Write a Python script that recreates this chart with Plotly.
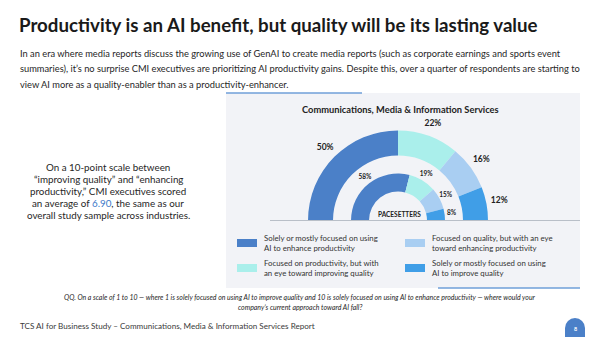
import plotly.graph_objects as go
import numpy as np

W, H = 600, 337

# ---------------- data ----------------
categories = [
    "Solely or mostly focused on using AI to enhance productivity",
    "Focused on productivity, but with an eye toward improving quality",
    "Focused on quality, but with an eye toward enhancing productivity",
    "Solely or mostly focused on using AI to improve quality",
]
legend_text = [
    "Solely or mostly focused on using<br>AI to enhance productivity",
    "Focused on productivity, but with<br>an eye toward improving quality",
    "Focused on quality, but with an eye<br>toward enhancing productivity",
    "Solely or mostly focused on using<br>AI to improve quality",
]
all_respondents = [50, 22, 16, 12]   # outer ring (%)
pacesetters = [58, 19, 15, 8]        # inner ring (%)
colors = ["#4b80c8", "#aaefeb", "#a9cef2", "#409ee7"]

FONT = "Lato"


def px(x):
    return x / W


def py(y):
    return 1 - y / H


def angles(vals):
    v = np.array(vals, dtype=float)
    start = np.cumsum(v) - v
    mid = (start + v / 2) * 1.8
    span = v * 1.8
    return mid, span


mid_o, span_o = angles(all_respondents)
mid_i, span_i = angles(pacesetters)

fig = go.Figure()

for i, cat in enumerate(categories):
    fig.add_trace(go.Barpolar(
        theta=[mid_o[i], mid_i[i]],
        width=[span_o[i], span_i[i]],
        r=[25, 18],
        base=[65, 29],
        marker=dict(color=colors[i], line=dict(width=0)),
        name=cat,
        showlegend=False,
        hoverinfo="skip",
    ))

fig.add_trace(go.Scatterpolar(
    r=[103] * 4 + [54] * 4,
    theta=list(mid_o) + list(mid_i),
    mode="text",
    text=[f"<b>{v}%</b>" for v in all_respondents] + [f"<b>{v}%</b>" for v in pacesetters],
    textfont=dict(family=FONT, size=[8.5] * 4 + [6.5] * 4, color="#222222"),
    cliponaxis=False,
    showlegend=False,
    hoverinfo="skip",
))

shapes = []
# panel
shapes.append(dict(type="rect", xref="paper", yref="paper", x0=px(226), x1=px(580), y0=py(288), y1=py(93),
                   fillcolor="#f2f3f7", line=dict(width=0), layer="below"))
shapes.append(dict(type="line", xref="paper", yref="paper", x0=px(226), x1=px(362), y0=py(93), y1=py(93),
                   line=dict(color="#6f9fd8", width=1.5)))
shapes.append(dict(type="line", xref="paper", yref="paper", x0=px(438), x1=px(580), y0=py(288), y1=py(288),
                   line=dict(color="#6f9fd8", width=1.5)))
# baseline of the half donut
shapes.append(dict(type="line", xref="paper", yref="paper", x0=px(270), x1=px(580), y0=py(220.5), y1=py(220.5),
                   line=dict(color="#b9bfc8", width=1)))

# legend swatches + text
leg_pos = [(237, 243), (237, 268), (405, 243), (405, 268)]
annotations = []
for i, (lx, ly) in enumerate(leg_pos):
    shapes.append(dict(type="rect", xref="paper", yref="paper", x0=px(lx), x1=px(lx + 20),
                       y0=py(ly + 4), y1=py(ly - 4), fillcolor=colors[i], line=dict(width=0)))
    annotations.append(dict(xref="paper", yref="paper", x=px(lx + 25), y=py(ly), xanchor="left", yanchor="middle",
                            text=legend_text[i], showarrow=False, align="left",
                            font=dict(family=FONT, size=7.8, color="#333333")))

# page badge
shapes.append(dict(type="circle", xref="paper", yref="paper", x0=px(565), x1=px(585), y0=py(338), y1=py(318),
                   fillcolor="#4b80c8", line=dict(width=0)))
shapes.append(dict(type="rect", xref="paper", yref="paper", x0=px(565), x1=px(585), y0=py(337), y1=py(328),
                   fillcolor="#4b80c8", line=dict(width=0)))

# title
annotations.append(dict(xref="paper", yref="paper", x=px(17), y=py(25), xanchor="left", yanchor="middle",
                        text="<b>Productivity is an AI benefit, but quality will be its lasting value</b>",
                        showarrow=False, font=dict(family=FONT, size=18.7, color="#1a1a1a")))

para = [
    "In an era where media reports discuss the growing use of GenAI to create media reports (such as corporate earnings and sports event",
    "summaries), it\u2019s no surprise CMI executives are prioritizing AI productivity gains. Despite this, over a quarter of respondents are starting to",
    "view AI more as a quality-enabler than as a productivity-enhancer.",
]
for k, line in enumerate(para):
    annotations.append(dict(xref="paper", yref="paper", x=px(18), y=py(53 + 16 * k), xanchor="left",
                            yanchor="middle", text=line, showarrow=False,
                            font=dict(family=FONT, size=9.3, color="#262626")))

left_block = [
    "On a 10-point scale between",
    "\u201cimproving quality\u201d and \u201cenhancing",
    "productivity,\u201d CMI executives scored",
    "an average of <span style='color:#3c78c8'>6.90</span>, the same as our",
    "overall study sample across industries.",
]
for k, line in enumerate(left_block):
    annotations.append(dict(xref="paper", yref="paper", x=px(108), y=py(166.5 + 12.2 * k), xanchor="center",
                            yanchor="middle", text=line, showarrow=False,
                            font=dict(family=FONT, size=9.8, color="#262626")))

annotations.append(dict(xref="paper", yref="paper", x=px(400), y=py(110), xanchor="center", yanchor="middle",
                        text="<b>Communications, Media & Information Services</b>", showarrow=False,
                        font=dict(family=FONT, size=9.3, color="#222222")))
annotations.append(dict(xref="paper", yref="paper", x=px(399), y=py(214), xanchor="center", yanchor="middle",
                        text="<b>PACESETTERS</b>", showarrow=False,
                        font=dict(family=FONT, size=6.5, color="#222222")))

foot = [
    "<i>QQ. On a scale of 1 to 10 \u2014 where 1 is solely focused on using AI to improve quality and 10 is solely focused on using AI to enhance productivity \u2014 where would your</i>",
    "<i>company\u2019s current approach toward AI fall?</i>",
]
for k, line in enumerate(foot):
    annotations.append(dict(xref="paper", yref="paper", x=px(300), y=py(297 + 10 * k), xanchor="center",
                            yanchor="middle", text=line, showarrow=False,
                            font=dict(family=FONT, size=6.95, color="#262626")))

annotations.append(dict(xref="paper", yref="paper", x=px(18), y=py(326), xanchor="left", yanchor="middle",
                        text="TCS AI for Business Study \u2013 Communications, Media & Information Services Report",
                        showarrow=False, font=dict(family=FONT, size=8.1, color="#3a3a3a")))
annotations.append(dict(xref="paper", yref="paper", x=px(575), y=py(329), xanchor="center", yanchor="middle",
                        text="<b>8</b>", showarrow=False, font=dict(family=FONT, size=5.5, color="#ffffff")))

fig.update_layout(
    width=W, height=H,
    margin=dict(l=0, r=0, t=0, b=0),
    paper_bgcolor="#ffffff",
    plot_bgcolor="#ffffff",
    showlegend=False,
    polar=dict(
        domain=dict(x=[px(288), px(508)], y=[py(220.5), py(110.5)]),
        sector=[0, 180],
        hole=0,
        bgcolor="rgba(0,0,0,0)",
        barmode="overlay",
        radialaxis=dict(range=[0, 110], visible=False),
        angularaxis=dict(rotation=180, direction="clockwise", visible=False),
    ),
    shapes=shapes,
    annotations=annotations,
)

fig.write_html("out.html")
